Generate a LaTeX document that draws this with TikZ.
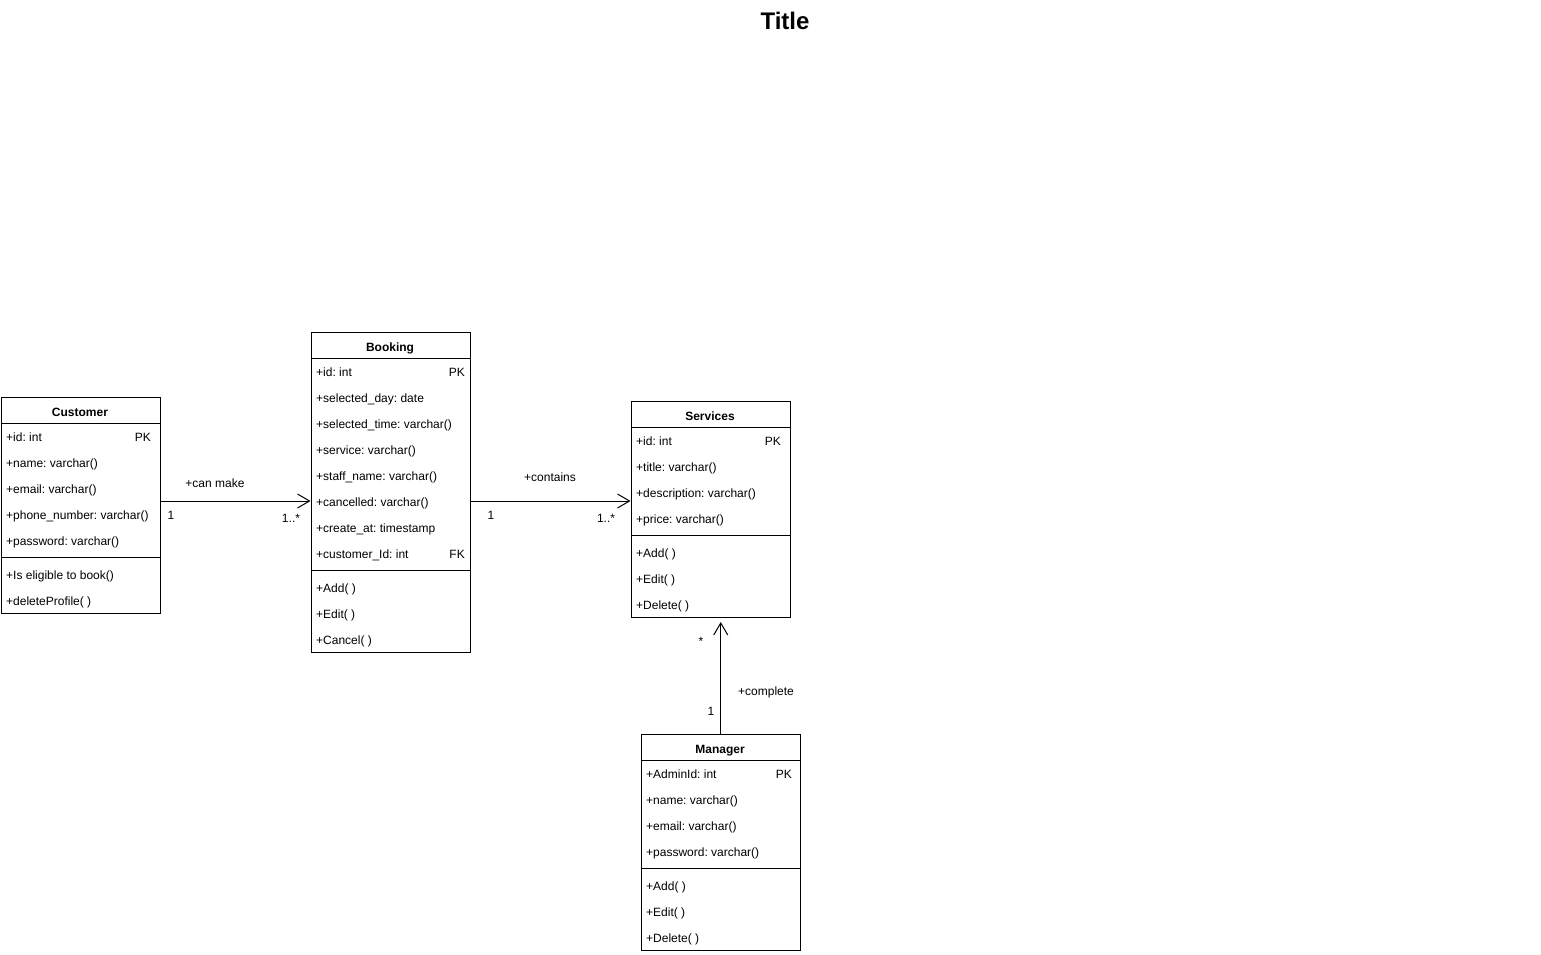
\documentclass[tikz,border=0pt]{standalone}
\usepackage{fontspec}
\setmainfont{Liberation Sans}
\usetikzlibrary{arrows.meta}
\frenchspacing
\begin{document}
\begin{tikzpicture}[x=1pt,y=-1pt,
  classbox/.style={draw, line width=1pt, minimum width=159.5pt, inner sep=0pt, anchor=north west},
  head/.style={anchor=base, inner sep=0pt, font=\fontsize{12}{14}\selectfont\bfseries},
  row/.style={anchor=base west, inner sep=0pt, font=\fontsize{12}{14}\selectfont},
  keytag/.style={anchor=base east, inner sep=0pt, font=\fontsize{12}{14}\selectfont},
  sep/.style={line width=1pt},
  assoc/.style={line width=1pt, -{Straight Barb[length=12pt,width=14pt,line width=1pt]}},
  lbl/.style={anchor=base, inner sep=0pt, font=\fontsize{12}{14}\selectfont}]
\useasboundingbox (0,0) rectangle (1541,954);

% title
\node[anchor=base, inner sep=0pt, font=\fontsize{24}{28}\selectfont\bfseries] (title) at (785,29) {Title};

% ---------- Customer ----------
\node[classbox, minimum height=216pt] (customer) at (0.5,397) {};
\node[head] (cu-h) at (80,416) {Customer};
\draw[sep] (customer.west |- 0,423) -- (customer.east |- 0,423);
\foreach \t [count=\i] in {+id: int, +name: varchar(), +email: varchar(), +phone\_number: varchar(), +password: varchar()}
  \node[row] (cu-a\i) at (6,{441+26*(\i-1)}) {\t};
\node[keytag] (cu-pk) at (151,441) {PK};
\draw[sep] (customer.west |- 0,557) -- (customer.east |- 0,557);
\foreach \t [count=\i] in {+Is eligible to book(), +deleteProfile( )}
  \node[row] (cu-m\i) at (6,{579+26*(\i-1)}) {\t};

% ---------- Booking ----------
\node[classbox, minimum height=320pt] (booking) at (310.5,332) {};
\node[head] (bk-h) at (390,351) {Booking};
\draw[sep] (booking.west |- 0,358) -- (booking.east |- 0,358);
\foreach \t [count=\i] in {+id: int, +selected\_day: date, +selected\_time: varchar(), +service: varchar(), +staff\_name: varchar(), +cancelled: varchar(), +create\_at: timestamp, +customer\_Id: int}
  \node[row] (bk-a\i) at (316,{376+26*(\i-1)}) {\t};
\node[keytag] (bk-pk) at (465,376) {PK};
\node[keytag] (bk-fk) at (465,558) {FK};
\draw[sep] (booking.west |- 0,570) -- (booking.east |- 0,570);
\foreach \t [count=\i] in {+Add( ), +Edit( ), +Cancel( )}
  \node[row] (bk-m\i) at (316,{592+26*(\i-1)}) {\t};

% ---------- Services ----------
\node[classbox, minimum height=216pt] (services) at (630.5,401) {};
\node[head] (sv-h) at (710,420) {Services};
\draw[sep] (services.west |- 0,427) -- (services.east |- 0,427);
\foreach \t [count=\i] in {+id: int, +title: varchar(), +description: varchar(), +price: varchar()}
  \node[row] (sv-a\i) at (636,{445+26*(\i-1)}) {\t};
\node[keytag] (sv-pk) at (781,445) {PK};
\draw[sep] (services.west |- 0,535) -- (services.east |- 0,535);
\foreach \t [count=\i] in {+Add( ), +Edit( ), +Delete( )}
  \node[row] (sv-m\i) at (636,{557+26*(\i-1)}) {\t};

% ---------- Manager ----------
\node[classbox, minimum height=216pt] (manager) at (640.5,734) {};
\node[head] (mg-h) at (720,753) {Manager};
\draw[sep] (manager.west |- 0,760) -- (manager.east |- 0,760);
\foreach \t [count=\i] in {+AdminId: int, +name: varchar(), +email: varchar(), +password: varchar()}
  \node[row] (mg-a\i) at (646,{778+26*(\i-1)}) {\t};
\node[keytag] (mg-pk) at (792,778) {PK};
\draw[sep] (manager.west |- 0,868) -- (manager.east |- 0,868);
\foreach \t [count=\i] in {+Add( ), +Edit( ), +Delete( )}
  \node[row] (mg-m\i) at (646,{890+26*(\i-1)}) {\t};

% ---------- associations ----------
\coordinate (lane) at (0,501);
\draw[assoc] (customer.east |- lane) -- (booking.west |- lane);
\draw[assoc] (booking.east |- lane) -- (services.west |- lane);
\draw[assoc] (manager.north) -- ([yshift=-4pt]manager.north |- services.south);

\node[lbl] (l-canmake) at (215,487) {+can make};
\node[lbl] (l-cu1) at (171,519) {1};
\node[lbl] (l-bkmany) at (291,522) {1..*};
\node[lbl] (l-contains) at (550,481) {+contains};
\node[lbl] (l-bk1) at (491,519) {1};
\node[lbl] (l-svmany) at (606,522) {1..*};
\node[lbl] (l-svstar) at (701,645) {*};
\node[lbl] (l-complete) at (766,695) {+complete};
\node[lbl] (l-mg1) at (711,715) {1};
\end{tikzpicture}
\end{document}
